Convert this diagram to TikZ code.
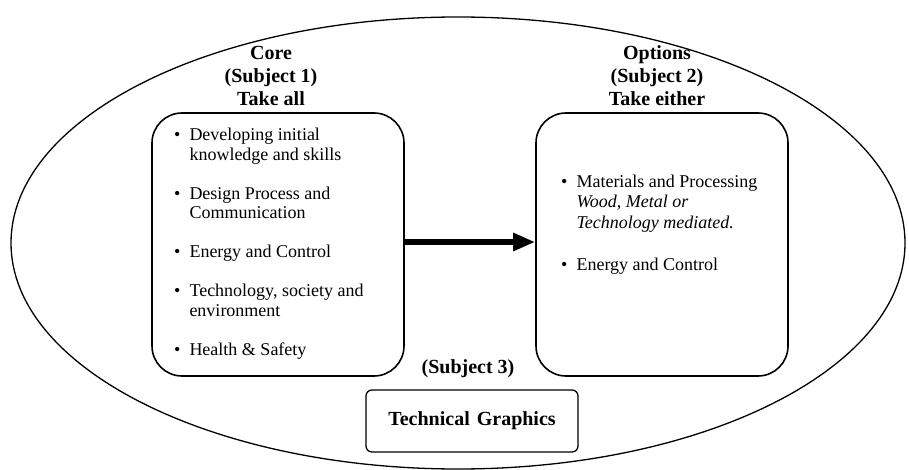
\documentclass[tikz,border=0pt]{standalone}
\usepackage{fontspec}
\setmainfont{Liberation Serif}
\usetikzlibrary{arrows.meta,positioning}
\newcommand{\bul}{\textbullet}

\begin{document}
\begin{tikzpicture}[
  x=1pt,y=-1pt,
  panel/.style={draw,line width=1.6pt,rounded corners=30pt,minimum width=252pt,
                minimum height=263pt,inner sep=0pt},
  head/.style={font=\fontsize{20}{23}\selectfont\bfseries,align=center},
  items/.style={font=\fontsize{18}{19.5}\selectfont,inner sep=0pt,anchor=north west},
  tgbox/.style={draw,line width=1.3pt,rounded corners=6pt,minimum width=212pt,
                minimum height=62pt,font=\fontsize{20}{23}\selectfont\bfseries},
  arr/.style={-{Triangle[length=22pt,width=17pt]},line width=6.5pt},
]
\useasboundingbox (0,0) rectangle (909,470);
% ----- outer boundary
\draw[line width=1.3pt] (458,243) ellipse [x radius=447pt, y radius=226pt];
% ----- core subject
\node[panel] (core) at (278,244.5) {};
\node[head] (corehead) at (271,76) {Core\\(Subject 1)\\Take all};
\node[items] (corelist) at (174,127) {%
  \begin{tabular}{@{}l@{\hspace{9pt}}l@{}}
  \bul & Developing initial\\
       & knowledge and skills\\[19.5pt]
  \bul & Design Process and\\
       & Communication\\[19.5pt]
  \bul & Energy and Control\\[19.5pt]
  \bul & Technology, society and\\
       & environment\\[19.5pt]
  \bul & Health \& Safety
  \end{tabular}};
% ----- options
\node[panel] (opts) at (662,244.5) {};
\node[head] (optshead) at (657,76) {Options\\(Subject 2)\\Take either};
\node[items] (optslist) at (561,174) {%
  \begin{tabular}{@{}l@{\hspace{9pt}}l@{}}
  \bul & Materials and Processing\\
       & \itshape Wood, Metal or\\[2pt]
       & \itshape Technology mediated.\\[22.5pt]
  \bul & Energy and Control
  \end{tabular}};
\draw[arr] ([yshift=2.5pt]core.east) -- ([yshift=2.5pt]opts.west);
% ----- subject 3
\node[head] (tghead) at (468,369) {(Subject 3)};
\node[tgbox] (tg) at (472,421) {Technical\hspace{7pt}Graphics};
\end{tikzpicture}
\end{document}
